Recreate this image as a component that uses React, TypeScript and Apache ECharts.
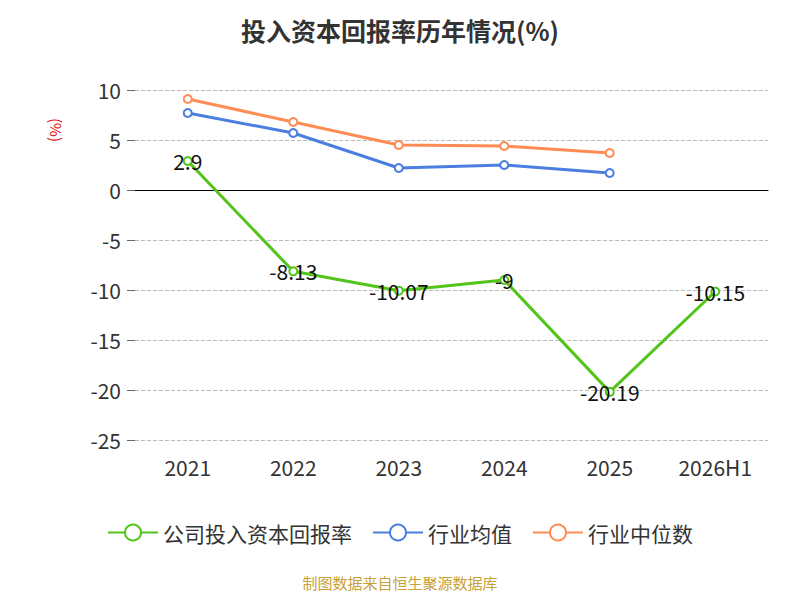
import {useEffect, useRef} from 'react';
import * as echarts from 'echarts';

const years = ['2021', '2022', '2023', '2024', '2025', '2026H1'];
const companyRoic = [2.9, -8.13, -10.07, -9, -20.19, -10.15];
const industryAvg = [7.7, 5.7, 2.2, 2.5, 1.7];
const industryMedian = [9.1, 6.8, 4.5, 4.4, 3.7];

export default function App() {
    const chartRef = useRef<HTMLDivElement | null>(null);

    useEffect(() => {
        const el = chartRef.current;
        if (!el) return;
        const chart = echarts.init(el, null, {renderer: 'svg'});
        const font = '"Noto Sans CJK SC", "Noto Sans", sans-serif';
        chart.setOption({
            animation: false,
            textStyle: {fontFamily: font},
            title: {
                text: '投入资本回报率历年情况(%)',
                left: 'center',
                top: 4,
                textStyle: {fontSize: 25, fontWeight: 'bold', color: '#333'},
            },
            grid: {left: 127, right: 24, top: 82, bottom: 152, outerBoundsMode: 'none'},
            legend: {
                bottom: 44,
                itemWidth: 50,
                itemHeight: 20,
                itemGap: 20,
                textStyle: {fontSize: 21, color: '#333'},
                data: ['公司投入资本回报率', '行业均值', '行业中位数'],
            },
            graphic: [
                {
                    type: 'text',
                    left: 'center',
                    bottom: 2,
                    style: {text: '制图数据来自恒生聚源数据库', fontSize: 15, fill: '#c9a136', fontFamily: font},
                },
                {
                    type: 'text',
                    x: 56,
                    y: 110,
                    rotation: -Math.PI / 2,
                    style: {text: '(%)', fontSize: 15, fill: '#e00000', fontFamily: font},
                },
            ],
            xAxis: [
                {
                    type: 'category',
                    data: years,
                    position: 'bottom',
                    axisLine: {show: false, onZero: false},
                    axisTick: {show: false},
                    axisLabel: {fontSize: 21, color: '#333', margin: 16},
                },
                {
                    type: 'category',
                    data: years,
                    position: 'bottom',
                    axisLine: {onZero: true, lineStyle: {color: '#000'}},
                    axisTick: {length: 6, lineStyle: {color: '#000'}},
                    axisLabel: {show: false},
                },
            ],
            yAxis: {
                type: 'value',
                min: -25,
                max: 10,
                interval: 5,
                axisLine: {show: false},
                axisTick: {show: true, length: 8, lineStyle: {color: '#666'}},
                axisLabel: {fontSize: 21, color: '#333', margin: 14},
                splitLine: {lineStyle: {type: 'dashed', color: '#bbb'}},
            },
            series: [
                {
                    name: '公司投入资本回报率',
                    type: 'line',
                    data: companyRoic,
                    symbol: 'emptyCircle',
                    symbolSize: 8,
                    itemStyle: {color: '#52c41a'},
                    lineStyle: {width: 3, color: '#52c41a'},
                    label: {show: true, position: 'inside', fontSize: 21, color: '#111'},
                    z: 3,
                },
                {
                    name: '行业均值',
                    type: 'line',
                    data: industryAvg,
                    symbol: 'emptyCircle',
                    symbolSize: 8,
                    itemStyle: {color: '#4a7fe0'},
                    lineStyle: {width: 3, color: '#4a7fe0'},
                },
                {
                    name: '行业中位数',
                    type: 'line',
                    data: industryMedian,
                    symbol: 'emptyCircle',
                    symbolSize: 8,
                    itemStyle: {color: '#ff8c55'},
                    lineStyle: {width: 3, color: '#ff8c55'},
                },
            ],
        });
        return () => chart.dispose();
    }, []);

    return <div ref={chartRef} style={{width: '784px', height: '584px'}}/>;
}
